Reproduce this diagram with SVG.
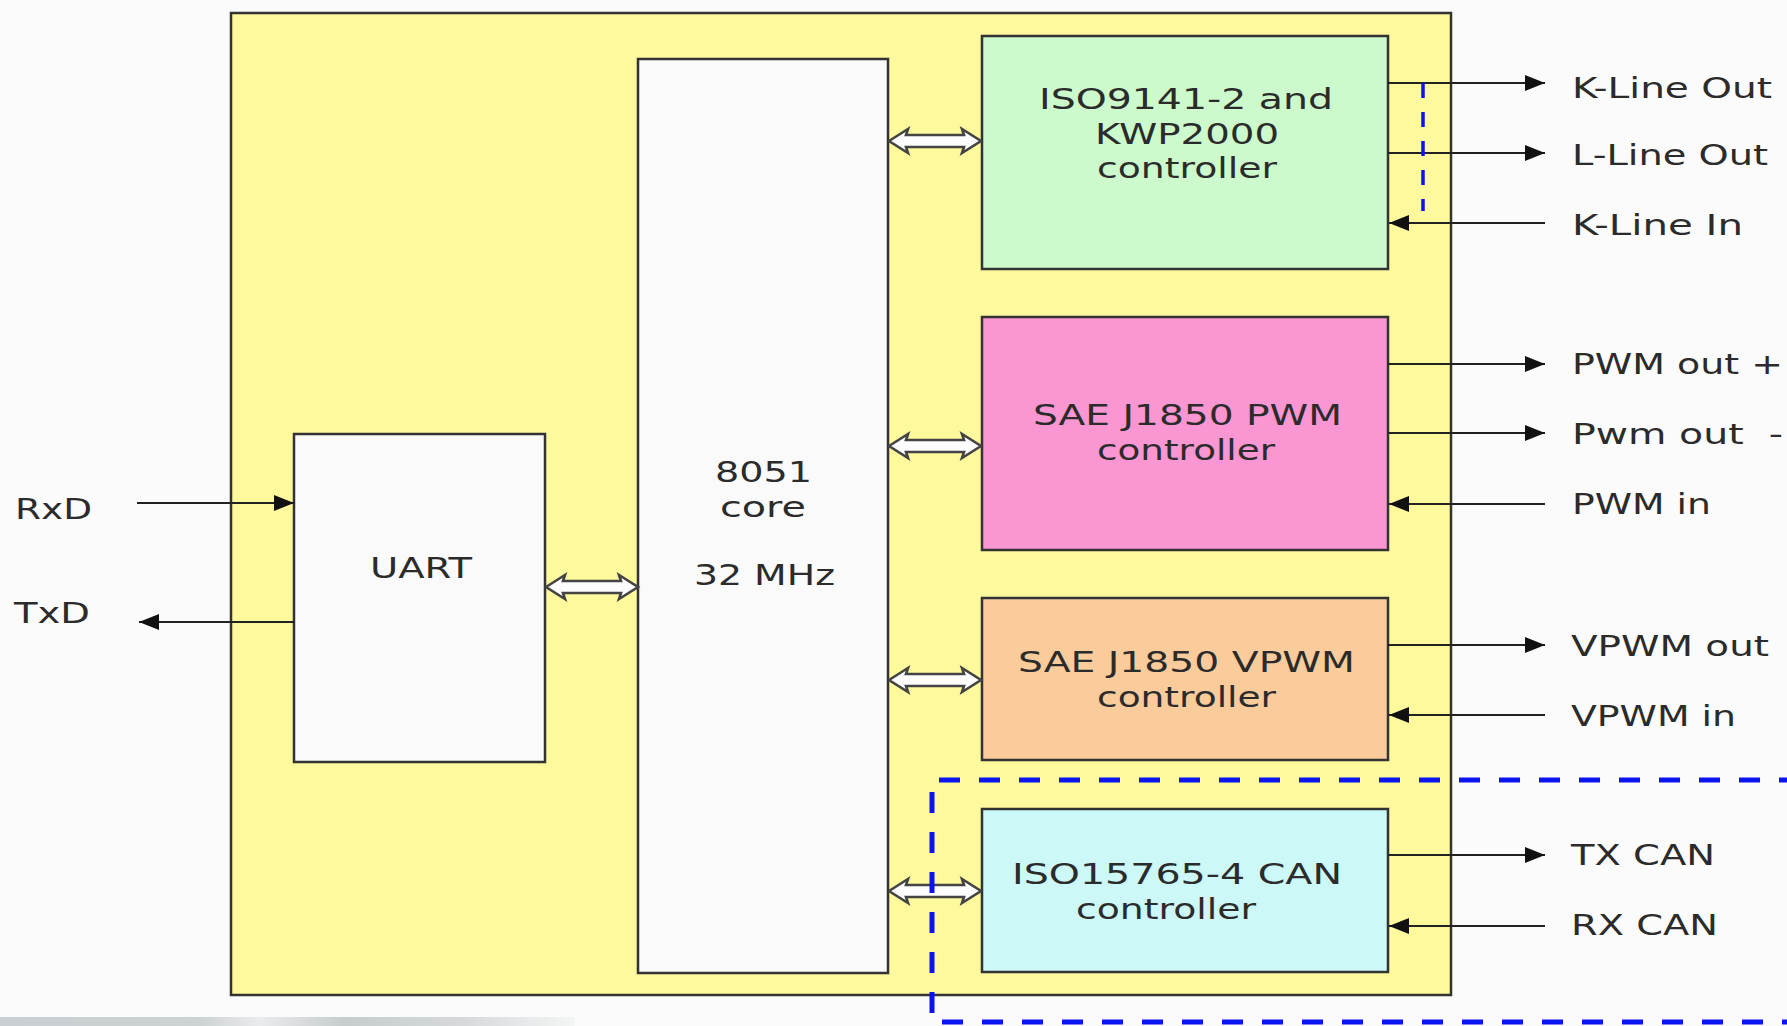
<svg xmlns="http://www.w3.org/2000/svg" width="1787" height="1026" viewBox="0 0 1787 1026">
<style>
.box{stroke:#333;stroke-width:2.5}
.t{font-family:"DejaVu Sans","Liberation Sans",sans-serif;font-size:29px;fill:#2b2b2b}
.ln{fill:none;stroke:#222;stroke-width:2.2}
.bus{fill:#fdfdfd;stroke:#444;stroke-width:2.6}
.blue{fill:none;stroke:#0a14f0}
</style>
<defs>
<marker id="ah" markerUnits="userSpaceOnUse" markerWidth="22" markerHeight="16" refX="20" refY="8" orient="auto">
<path d="M0,0 L20,8 L0,16 Z" fill="#111"/>
</marker>
<path id="dbl" d="M1,0 L20,-12 L18,-6 L76,-6 L74,-12 L93,0 L74,12 L76,6 L18,6 L20,12 Z"/>
<linearGradient id="gr" x1="0" y1="0" x2="1" y2="0">
<stop offset="0" stop-color="#c9cfd2"/>
<stop offset="0.35" stop-color="#cdd2d4"/>
<stop offset="0.45" stop-color="#e9ecec"/>
<stop offset="0.6" stop-color="#c7cccf"/>
<stop offset="0.8" stop-color="#d5d9db"/>
<stop offset="1" stop-color="#f4f5f5"/>
</linearGradient>
</defs>
<rect x="0" y="0" width="1787" height="1026" fill="#fbfbfb"/>
<rect x="0" y="1017" width="575" height="9" fill="url(#gr)"/>

<g id="chip"><rect class="box" x="231" y="13" width="1220" height="982" fill="#fdf99c"/></g>

<g id="core">
<rect class="box" x="638" y="59" width="250" height="914" fill="#fafafa"/>
<text class="t" x="715" y="482" textLength="97" lengthAdjust="spacingAndGlyphs">8051</text>
<text class="t" x="720" y="517" textLength="86" lengthAdjust="spacingAndGlyphs">core</text>
<text class="t" x="694" y="585" textLength="141" lengthAdjust="spacingAndGlyphs">32 MHz</text>
</g>

<g id="uart">
<rect class="box" x="294" y="434" width="251" height="328" fill="#fafafa"/>
<text class="t" x="370" y="578" textLength="102" lengthAdjust="spacingAndGlyphs">UART</text>
</g>

<g id="iso9141">
<rect class="box" x="982" y="36" width="406" height="233" fill="#ccfacc"/>
<text class="t" x="1039" y="109" textLength="294" lengthAdjust="spacingAndGlyphs">ISO9141-2 and</text>
<text class="t" x="1095" y="144" textLength="184" lengthAdjust="spacingAndGlyphs">KWP2000</text>
<text class="t" x="1097" y="178" textLength="180" lengthAdjust="spacingAndGlyphs">controller</text>
</g>

<g id="pwm">
<rect class="box" x="982" y="317" width="406" height="233" fill="#fa96d2"/>
<text class="t" x="1033" y="425" textLength="309" lengthAdjust="spacingAndGlyphs">SAE J1850 PWM</text>
<text class="t" x="1097" y="460" textLength="178" lengthAdjust="spacingAndGlyphs">controller</text>
</g>

<g id="vpwm">
<rect class="box" x="982" y="598" width="406" height="162" fill="#facc9c"/>
<text class="t" x="1018" y="672" textLength="337" lengthAdjust="spacingAndGlyphs">SAE J1850 VPWM</text>
<text class="t" x="1097" y="707" textLength="179" lengthAdjust="spacingAndGlyphs">controller</text>
</g>

<g id="can">
<rect class="box" x="982" y="809" width="406" height="163" fill="#ccf8f8"/>
<text class="t" x="1012" y="884" textLength="330" lengthAdjust="spacingAndGlyphs">ISO15765-4 CAN</text>
<text class="t" x="1076" y="919" textLength="180" lengthAdjust="spacingAndGlyphs">controller</text>
</g>

<g id="connectors">
<use href="#dbl" class="bus" transform="translate(888,141)"/>
<use href="#dbl" class="bus" transform="translate(888,446)"/>
<use href="#dbl" class="bus" transform="translate(888,680)"/>
<use href="#dbl" class="bus" transform="translate(888,891)"/>
<use href="#dbl" class="bus" transform="translate(545,587)"/>
<path class="ln" d="M137,503 H294" marker-end="url(#ah)"/>
<path class="ln" d="M294,622 H139" marker-end="url(#ah)"/>
<path class="ln" d="M1388,83 H1545" marker-end="url(#ah)"/>
<path class="ln" d="M1388,153 H1545" marker-end="url(#ah)"/>
<path class="ln" d="M1545,223 H1389" marker-end="url(#ah)"/>
<path class="ln" d="M1388,364 H1545" marker-end="url(#ah)"/>
<path class="ln" d="M1388,433 H1545" marker-end="url(#ah)"/>
<path class="ln" d="M1545,504 H1389" marker-end="url(#ah)"/>
<path class="ln" d="M1388,645 H1545" marker-end="url(#ah)"/>
<path class="ln" d="M1545,715 H1389" marker-end="url(#ah)"/>
<path class="ln" d="M1388,855 H1545" marker-end="url(#ah)"/>
<path class="ln" d="M1545,926 H1389" marker-end="url(#ah)"/>
</g>

<g id="labels">
<text class="t" x="15" y="519" textLength="77" lengthAdjust="spacingAndGlyphs">RxD</text>
<text class="t" x="14" y="623" textLength="76" lengthAdjust="spacingAndGlyphs">TxD</text>
<text class="t" x="1572" y="98" textLength="200" lengthAdjust="spacingAndGlyphs">K-Line Out</text>
<text class="t" x="1572" y="165" textLength="196" lengthAdjust="spacingAndGlyphs">L-Line Out</text>
<text class="t" x="1572" y="235" textLength="171" lengthAdjust="spacingAndGlyphs">K-Line In</text>
<text class="t" x="1572" y="374" textLength="211" lengthAdjust="spacingAndGlyphs">PWM out +</text>
<text class="t" x="1572" y="444" textLength="211" lengthAdjust="spacingAndGlyphs" xml:space="preserve">Pwm out  -</text>
<text class="t" x="1572" y="514" textLength="139" lengthAdjust="spacingAndGlyphs">PWM in</text>
<text class="t" x="1571" y="656" textLength="198" lengthAdjust="spacingAndGlyphs">VPWM out</text>
<text class="t" x="1571" y="726" textLength="165" lengthAdjust="spacingAndGlyphs">VPWM in</text>
<text class="t" x="1571" y="865" textLength="144" lengthAdjust="spacingAndGlyphs">TX CAN</text>
<text class="t" x="1571" y="935" textLength="147" lengthAdjust="spacingAndGlyphs">RX CAN</text>
</g>

<g id="highlights">
<path class="blue" d="M1423,83 V211" stroke-width="3.5" stroke-dasharray="15 14"/>
<path class="blue" d="M1800,780 H932 V1022 H1800" stroke-width="5" stroke-dasharray="21 19"/>
</g>
</svg>
